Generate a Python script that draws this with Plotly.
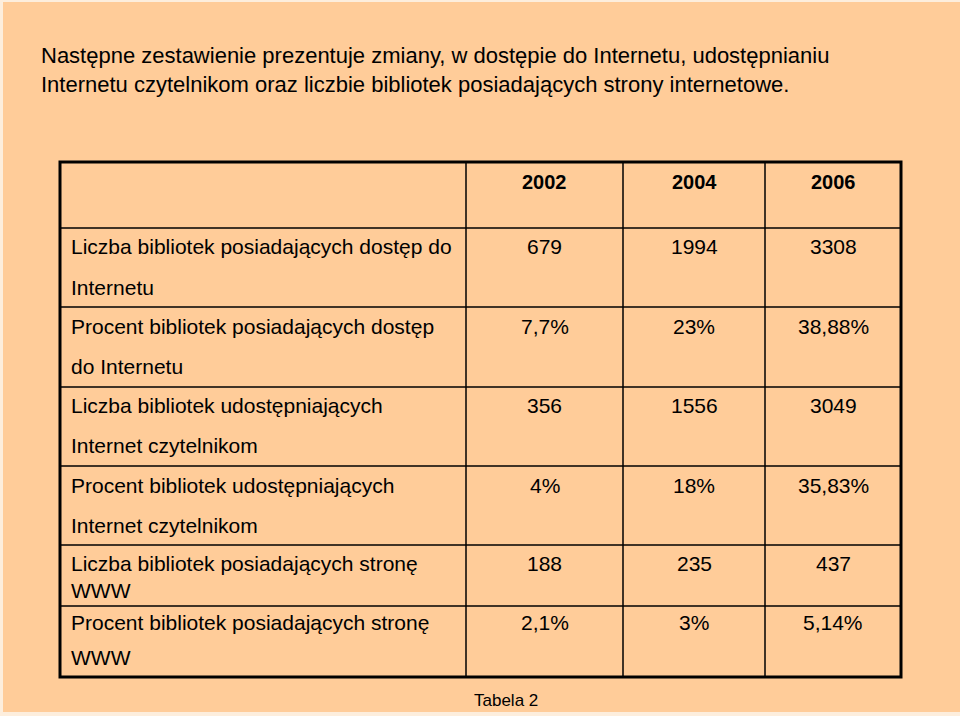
import plotly.graph_objects as go

# Slide text
title_lines = ["Następne zestawienie prezentuje zmiany, w dostępie do Internetu, udostępnianiu",
               "Internetu czytelnikom oraz liczbie bibliotek posiadających strony internetowe."]
caption = "Tabela 2"

# Table content
years = ["2002", "2004", "2006"]
row_labels = [
    ["Liczba bibliotek posiadających dostęp do", "Internetu"],
    ["Procent bibliotek posiadających dostęp", "do Internetu"],
    ["Liczba bibliotek udostępniających", "Internet czytelnikom"],
    ["Procent bibliotek udostępniających", "Internet czytelnikom"],
    ["Liczba bibliotek posiadających stronę", "WWW"],
    ["Procent bibliotek posiadających stronę", "WWW"],
]
values_2002 = ["679", "7,7%", "356", "4%", "188", "2,1%"]
values_2004 = ["1994", "23%", "1556", "18%", "235", "3%"]
values_2006 = ["3308", "38,88%", "3049", "35,83%", "437", "5,14%"]

# layout geometry (pixel-like coordinates)
col_x = [60, 466, 623, 765, 901]
row_y = [162, 228, 307, 387, 466, 545, 606, 677]
# y for first/second line of each row label
line1_y = [246, 326, 405, 485, 563, 622]
line2_y = [287, 366, 445, 525, 590, 657]

FONT = "Liberation Sans, Arial, sans-serif"
BG = "#FFCC99"

fig = go.Figure()
fig.add_trace(go.Scatter(x=[0, 960], y=[0, 716], mode="markers",
                         marker=dict(opacity=0), hoverinfo="skip", showlegend=False))

shapes = []
# slide body with faint lighter border around it
shapes.append(dict(type="rect", x0=3, x1=960, y0=2, y1=712, fillcolor=BG,
                   line=dict(width=0), layer="below"))
# inner grid lines
for x in col_x[1:-1]:
    shapes.append(dict(type="line", x0=x, x1=x, y0=row_y[0], y1=row_y[-1],
                       line=dict(color="black", width=1.5)))
for y in row_y[1:-1]:
    shapes.append(dict(type="line", x0=col_x[0], x1=col_x[-1], y0=y, y1=y,
                       line=dict(color="black", width=1.5)))
# outer border
shapes.append(dict(type="rect", x0=col_x[0], x1=col_x[-1], y0=row_y[0], y1=row_y[-1],
                   line=dict(color="black", width=3)))

ann = []
for i, t in enumerate(title_lines):
    ann.append(dict(x=39, y=55 + i * 29, text=t, xanchor="left", yanchor="middle",
                    showarrow=False, font=dict(family=FONT, size=22, color="black")))

centers = [(col_x[i] + col_x[i + 1]) / 2 for i in range(1, 4)]
for cx, yr in zip(centers, years):
    ann.append(dict(x=cx, y=182, text="<b>" + yr + "</b>", showarrow=False,
                    xanchor="center", yanchor="middle",
                    font=dict(family=FONT, size=20, color="black")))

for r, lab in enumerate(row_labels):
    for txt, yy in zip(lab, [line1_y[r], line2_y[r]]):
        ann.append(dict(x=69, y=yy, text=txt, showarrow=False, xanchor="left",
                        yanchor="middle", font=dict(family=FONT, size=21, color="black")))
    for cx, vals in zip(centers, [values_2002, values_2004, values_2006]):
        ann.append(dict(x=cx, y=line1_y[r], text=vals[r], showarrow=False,
                        xanchor="center", yanchor="middle",
                        font=dict(family=FONT, size=21, color="black")))

ann.append(dict(x=506, y=700, text=caption, showarrow=False, xanchor="center",
                yanchor="middle", font=dict(family=FONT, size=17, color="black")))

fig.update_layout(
    width=960, height=716,
    margin=dict(l=0, r=0, t=0, b=0),
    paper_bgcolor="#FDEEDD", plot_bgcolor="rgba(0,0,0,0)",
    xaxis=dict(range=[0, 960], visible=False, fixedrange=True),
    yaxis=dict(range=[716, 0], visible=False, fixedrange=True),
    shapes=shapes, annotations=ann, showlegend=False,
)

fig.write_html("out.html", config={"displayModeBar": False},
               post_script="document.body.style.margin='0';document.body.style.overflow='hidden';")
